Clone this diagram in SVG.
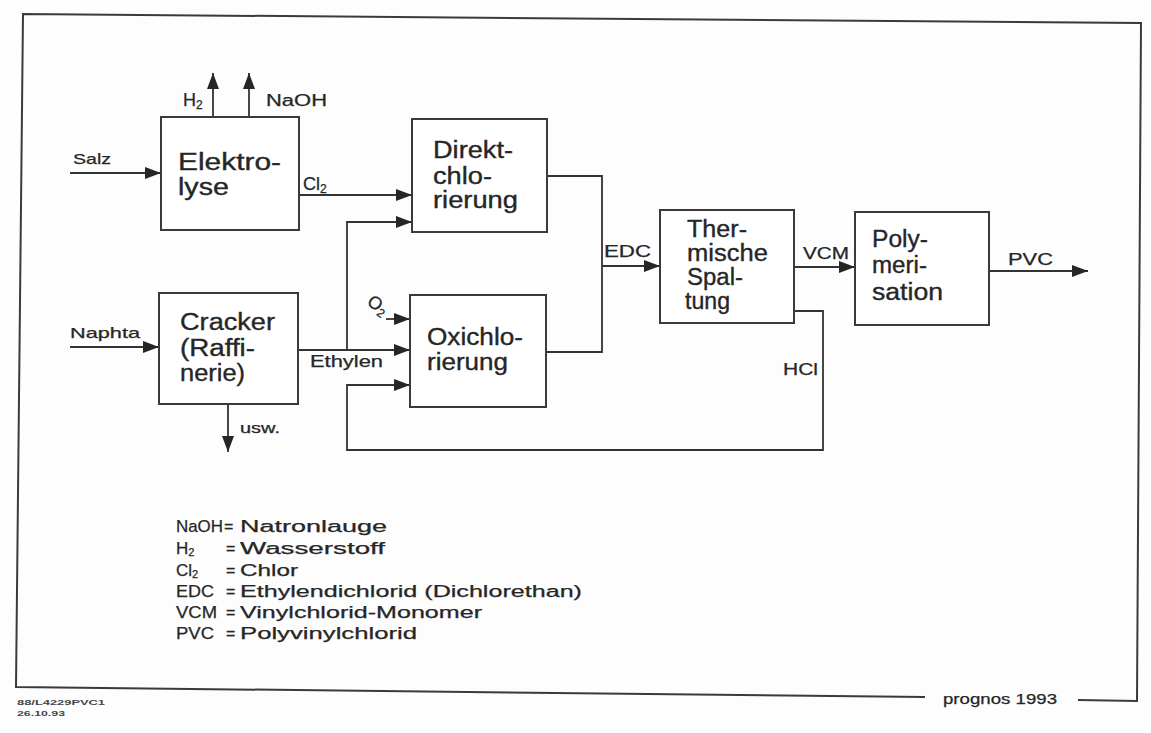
<svg xmlns="http://www.w3.org/2000/svg" width="1151" height="733" viewBox="0 0 1151 733">
<style>
.bg{fill:#fdfdfd}
.box{fill:#ffffff;stroke:#3a3a3a;stroke-width:2}
.bt{font-family:"Liberation Sans",Arial,sans-serif;font-size:23px;fill:#262626;stroke:#262626;stroke-width:0.35}
.lb{font-family:"Liberation Sans",Arial,sans-serif;font-size:16px;fill:#262626;stroke:#262626;stroke-width:0.25}
.lg{font-family:"Liberation Sans",Arial,sans-serif;font-size:16px;fill:#262626;stroke:#262626;stroke-width:0.25}
.sm{font-family:"Liberation Sans",Arial,sans-serif;font-size:8px;font-weight:bold;fill:#444}
.ln{fill:none;stroke:#333333;stroke-width:1.8}
.fr{fill:none;stroke:#3a3a3a;stroke-width:2}
</style>
<defs>
<marker id="ah" viewBox="0 0 16 12" refX="16" refY="6" markerWidth="16" markerHeight="12" markerUnits="userSpaceOnUse" orient="auto">
<path d="M0,0 L16,6 L0,12 z" fill="#262626"/>
</marker>
</defs>
<rect class="bg" x="0" y="0" width="1151" height="733"/>
<g id="frame">
<path class="fr" d="M925,697 L16,687 L23,14 L1141,23 L1137,701 L1078,700"/>
<text class="lb" x="943" y="704" style="font-size:15px" textLength="114" lengthAdjust="spacingAndGlyphs">prognos 1993</text>
<text class="sm" x="17" y="705" textLength="88" lengthAdjust="spacingAndGlyphs">88/L4229PVC1</text>
<text class="sm" x="17" y="716" textLength="48" lengthAdjust="spacingAndGlyphs">26.10.93</text>
</g>
<g id="connectors">
<line class="ln" x1="70" y1="173" x2="161" y2="173" marker-end="url(#ah)"/>
<line class="ln" x1="213" y1="117" x2="213" y2="73" marker-end="url(#ah)"/>
<line class="ln" x1="249" y1="117" x2="249" y2="73" marker-end="url(#ah)"/>
<line class="ln" x1="299" y1="195" x2="412" y2="195" marker-end="url(#ah)"/>
<path class="ln" d="M347,350 V222 H412" marker-end="url(#ah)"/>
<line class="ln" x1="70" y1="347" x2="159" y2="347" marker-end="url(#ah)"/>
<line class="ln" x1="298" y1="350" x2="410" y2="350" marker-end="url(#ah)"/>
<line class="ln" x1="386" y1="319" x2="410" y2="319" marker-end="url(#ah)"/>
<path class="ln" d="M794,311 H823 V450 H347 V385 H410" marker-end="url(#ah)"/>
<path class="ln" d="M547,176 H602 V352 H546"/>
<line class="ln" x1="602" y1="266" x2="660" y2="266" marker-end="url(#ah)"/>
<line class="ln" x1="794" y1="267" x2="855" y2="267" marker-end="url(#ah)"/>
<line class="ln" x1="989" y1="271" x2="1088" y2="271" marker-end="url(#ah)"/>
<line class="ln" x1="228" y1="404" x2="228" y2="452" marker-end="url(#ah)"/>
<text class="lb" x="73" y="164" style="font-size:15px" textLength="38" lengthAdjust="spacingAndGlyphs">Salz</text>
<text class="lb" x="183" y="106" style="font-size:18px">H<tspan style="font-size:12px" dy="3">2</tspan></text>
<text class="lb" x="266" y="106" textLength="61" lengthAdjust="spacingAndGlyphs">NaOH</text>
<text class="lb" x="303" y="190" style="font-size:18px">Cl<tspan style="font-size:12px" dy="3">2</tspan></text>
<text class="lb" x="70" y="338" style="font-size:15px" textLength="70" lengthAdjust="spacingAndGlyphs">Naphta</text>
<text class="lb" x="310" y="367" textLength="73" lengthAdjust="spacingAndGlyphs">Ethylen</text>
<text class="lb" x="240" y="433" style="font-size:14px" textLength="40" lengthAdjust="spacingAndGlyphs">usw.</text>
<text class="lb" x="0" y="0" style="font-size:18px" transform="translate(366,304) rotate(35)">O<tspan style="font-size:12px" dy="3">2</tspan></text>
<text class="lb" x="604" y="257" textLength="47" lengthAdjust="spacingAndGlyphs">EDC</text>
<text class="lb" x="803" y="259" textLength="46" lengthAdjust="spacingAndGlyphs">VCM</text>
<text class="lb" x="1008" y="265" textLength="45" lengthAdjust="spacingAndGlyphs">PVC</text>
<text class="lb" x="783" y="375" textLength="35" lengthAdjust="spacingAndGlyphs">HCl</text>
</g>
<g id="elektrolyse">
<rect class="box" x="161" y="117" width="138" height="113"/>
<text class="bt" x="178" y="170" textLength="103" lengthAdjust="spacingAndGlyphs">Elektro-</text>
<text class="bt" x="178" y="195" textLength="51" lengthAdjust="spacingAndGlyphs">lyse</text>
</g>
<g id="cracker">
<rect class="box" x="159" y="293" width="139" height="111"/>
<text class="bt" x="180" y="330" textLength="95" lengthAdjust="spacingAndGlyphs">Cracker</text>
<text class="bt" x="180" y="356" textLength="75" lengthAdjust="spacingAndGlyphs">(Raffi-</text>
<text class="bt" x="180" y="381" textLength="65" lengthAdjust="spacingAndGlyphs">nerie)</text>
</g>
<g id="direktchlorierung">
<rect class="box" x="412" y="119" width="135" height="113"/>
<text class="bt" x="433" y="158" textLength="80" lengthAdjust="spacingAndGlyphs">Direkt-</text>
<text class="bt" x="433" y="184" textLength="59" lengthAdjust="spacingAndGlyphs">chlo-</text>
<text class="bt" x="433" y="208" textLength="85" lengthAdjust="spacingAndGlyphs">rierung</text>
</g>
<g id="oxichlorierung">
<rect class="box" x="410" y="295" width="136" height="112"/>
<text class="bt" x="427" y="345" textLength="96" lengthAdjust="spacingAndGlyphs">Oxichlo-</text>
<text class="bt" x="427" y="370" textLength="81" lengthAdjust="spacingAndGlyphs">rierung</text>
</g>
<g id="thermische-spaltung">
<rect class="box" x="660" y="210" width="134" height="113"/>
<text class="bt" x="687" y="237" textLength="60" lengthAdjust="spacingAndGlyphs">Ther-</text>
<text class="bt" x="687" y="261" textLength="81" lengthAdjust="spacingAndGlyphs">mische</text>
<text class="bt" x="687" y="285" textLength="56" lengthAdjust="spacingAndGlyphs">Spal-</text>
<text class="bt" x="685" y="309" textLength="45" lengthAdjust="spacingAndGlyphs">tung</text>
</g>
<g id="polymerisation">
<rect class="box" x="855" y="212" width="134" height="113"/>
<text class="bt" x="872" y="247" textLength="56" lengthAdjust="spacingAndGlyphs">Poly-</text>
<text class="bt" x="872" y="273" textLength="55" lengthAdjust="spacingAndGlyphs">meri-</text>
<text class="bt" x="872" y="300" textLength="71" lengthAdjust="spacingAndGlyphs">sation</text>
</g>
<g id="legend">
<text class="lg" x="176" y="532" style="font-size:17px" textLength="47" lengthAdjust="spacingAndGlyphs">NaOH</text>
<text class="lg" x="224" y="532">=</text>
<text class="lg" x="240" y="532" textLength="147" lengthAdjust="spacingAndGlyphs">Natronlauge</text>
<text class="lg" x="176" y="554" style="font-size:17px">H<tspan style="font-size:11px" dy="2">2</tspan></text>
<text class="lg" x="226" y="554">=</text>
<text class="lg" x="240" y="554" textLength="145" lengthAdjust="spacingAndGlyphs">Wasserstoff</text>
<text class="lg" x="176" y="576" style="font-size:17px">Cl<tspan style="font-size:11px" dy="2">2</tspan></text>
<text class="lg" x="226" y="576">=</text>
<text class="lg" x="240" y="576" textLength="58" lengthAdjust="spacingAndGlyphs">Chlor</text>
<text class="lg" x="176" y="597" style="font-size:17px" textLength="38" lengthAdjust="spacingAndGlyphs">EDC</text>
<text class="lg" x="226" y="597">=</text>
<text class="lg" x="240" y="597" textLength="342" lengthAdjust="spacingAndGlyphs">Ethylendichlorid (Dichlorethan)</text>
<text class="lg" x="176" y="618" style="font-size:17px" textLength="41" lengthAdjust="spacingAndGlyphs">VCM</text>
<text class="lg" x="226" y="618">=</text>
<text class="lg" x="240" y="618" textLength="242" lengthAdjust="spacingAndGlyphs">Vinylchlorid-Monomer</text>
<text class="lg" x="176" y="639" style="font-size:17px" textLength="38" lengthAdjust="spacingAndGlyphs">PVC</text>
<text class="lg" x="226" y="639">=</text>
<text class="lg" x="240" y="639" textLength="177" lengthAdjust="spacingAndGlyphs">Polyvinylchlorid</text>
</g>
</svg>
